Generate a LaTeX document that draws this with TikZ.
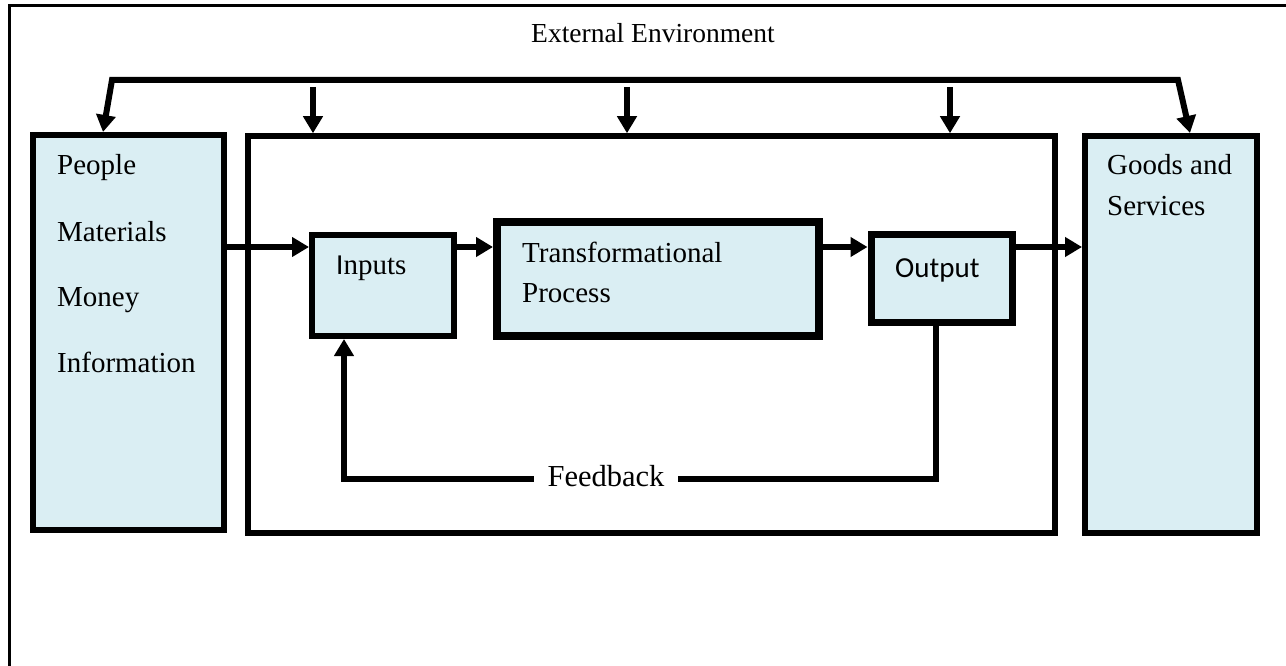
\documentclass[tikz,border=0pt]{standalone}
\usepackage{fontspec}
\setmainfont{Liberation Serif}
\newfontfamily\calib{Carlito}
\usetikzlibrary{arrows.meta}
\definecolor{boxfill}{HTML}{DAEEF3}
\begin{document}
\begin{tikzpicture}[x=1pt,y=-1pt,
  box/.style={draw=black,fill=boxfill,rectangle,inner sep=0pt},
  plainbox/.style={draw=black,rectangle,inner sep=0pt},
  lbl/.style={font=\fontsize{29}{34}\selectfont,inner sep=0pt,anchor=base west},
  conn/.style={line width=6pt,-{Triangle[length=17pt,width=19pt]}},
  bus/.style={line width=6pt,{Triangle[length=17pt,width=19pt]}-{Triangle[length=17pt,width=19pt]}},
  frame/.style={line width=3pt}]
\useasboundingbox (0,0) rectangle (1286,666);
% outer frame (open at right and bottom)
\coordinate (fTR) at (1286,6);
\coordinate (fTL) at (9,6);
\coordinate (fBL) at (9,666);
\draw[frame] (fTR) -- (fTL) -- (fBL);

\node[font=\fontsize{27.5}{33}\selectfont,inner sep=0pt,anchor=base] (title) at (653,43) {External Environment};

% boxes
\node[box,line width=6pt,minimum width=191pt,minimum height=395pt] (src) at (128.5,332.5) {};
\node[plainbox,line width=5.5pt,minimum width=807pt,minimum height=397pt] (sys) at (651.5,334.5) {};
\node[box,line width=6pt,minimum width=172pt,minimum height=397pt] (goods) at (1171,334.5) {};
\node[box,line width=6pt,minimum width=142pt,minimum height=101pt] (inputs) at (383,285.5) {};
\node[box,line width=8pt,minimum width=322pt,minimum height=114pt] (trans) at (658,279) {};
\node[box,line width=7pt,minimum width=141pt,minimum height=88pt] (output) at (941.5,278) {};

% texts
\node[lbl] (tPeople) at (57,175) {People};
\node[lbl] (tMaterials) at (57,241) {Materials};
\node[lbl] (tMoney) at (57,306) {Money};
\node[lbl] (tInfo) at (57,372) {Information};
\node[lbl] (tGoods) at (1107,175) {Goods and};
\node[lbl] (tServices) at (1107,215) {Services};
\node[lbl] (tInputs) at (336,274) {{\calib\fontsize{29}{34}\selectfont I}nputs};
\node[lbl] (tTrans) at (522,262) {Transformational};
\node[lbl] (tProcess) at (522,302) {Process};
\node[lbl,font=\calib\fontsize{29}{34}\selectfont] (tOutput) at (895,277) {Output};

% flow arrows
\coordinate (yA) at (0,247);
\draw[conn] (src.east |- yA) -- (inputs.west |- yA);
\draw[conn] (inputs.east |- yA) -- (trans.west |- yA);
\draw[conn] (trans.east |- yA) -- (output.west |- yA);
\draw[conn] (output.east |- yA) -- (goods.west |- yA);

% environment bus
\coordinate (busL) at (112,80);
\coordinate (busR) at (1178,80);
\coordinate (tipL) at (103,0);
\coordinate (tipR) at (1190,0);
\draw[bus] (src.north -| tipL) -- (busL) -- (busR) -- (goods.north -| tipR);
\coordinate (d1) at (313,87);
\coordinate (d2) at (627,87);
\coordinate (d3) at (950,87);
\draw[conn] (d1) -- (d1 |- sys.north);
\draw[conn] (d2) -- (d2 |- sys.north);
\draw[conn] (d3) -- (d3 |- sys.north);

% feedback loop
\coordinate (fbR) at (936,479);
\coordinate (fbL) at (344,479);
\draw[conn] (output.south -| fbR) -- (fbR) -- (fbL) -- (inputs.south -| fbL);
\node[font=\fontsize{30.5}{36}\selectfont,anchor=base,fill=white,inner xsep=14pt,inner ysep=2pt] (tFeedback) at (606,486) {Feedback};
\end{tikzpicture}
\end{document}
